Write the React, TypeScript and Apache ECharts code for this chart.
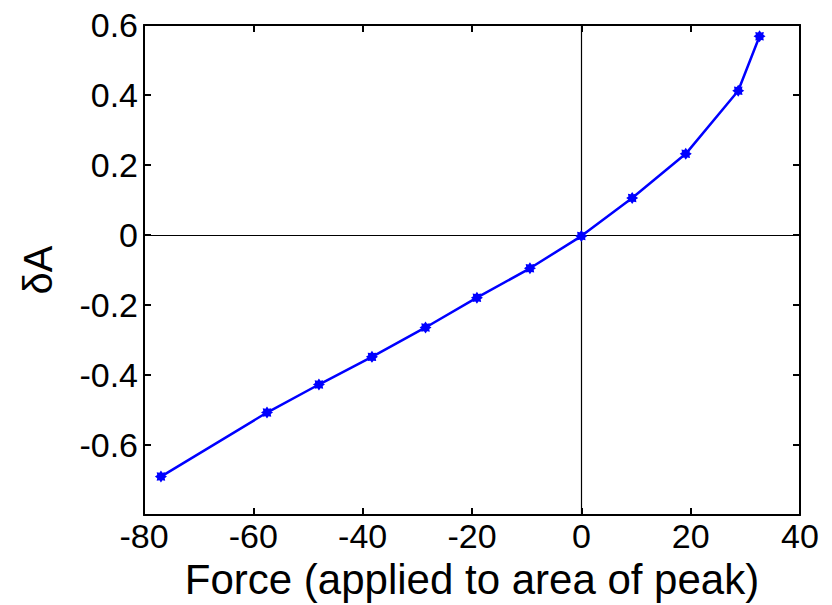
import React, { useEffect, useRef } from "react";
import * as echarts from "echarts";

const forceValues = [-76.9, -57.5, -48.0, -38.3, -28.5, -19.1, -9.4, 0, 9.3, 19.1, 28.7, 32.6];
const deltaA = [-0.69, -0.507, -0.427, -0.348, -0.264, -0.179, -0.095, -0.003, 0.106, 0.232, 0.412, 0.568];
const xTicks = { min: -80, max: 40, interval: 20 };
const yTicks = { min: -0.8, max: 0.6, interval: 0.2 };

function starPath(): string {
  const pts: string[] = [];
  for (let k = 0; k < 16; k++) {
    const a = (k * Math.PI) / 8;
    const r = k % 2 === 0 ? 1 : 0.68;
    pts.push(`${(r * Math.cos(a)).toFixed(3)} ${(r * Math.sin(a)).toFixed(3)}`);
  }
  return "path://M" + pts.join(" L") + " Z";
}

export default function App() {
  const ref = useRef<HTMLDivElement>(null);
  useEffect(() => {
    if (!ref.current) return;
    const chart = echarts.init(ref.current, null, { renderer: "svg" });
    const font = "'Liberation Sans', Arial, Helvetica, sans-serif";
    const axisCommon = {
      axisLine: { show: true, onZero: false, lineStyle: { color: "#000", width: 2 } },
      axisTick: { show: true, inside: true, length: 7, lineStyle: { color: "#000", width: 2 } },
      splitLine: { show: false },
    };
    const data = forceValues.map((x, i) => [x, deltaA[i]]);
    chart.setOption({
      animation: false,
      backgroundColor: "#fff",
      grid: { left: 144, right: 32, top: 25, bottom: 89, containLabel: false },
      xAxis: [
        {
          type: "value",
          ...xTicks,
          position: "bottom",
          ...axisCommon,
          axisLabel: { color: "#000", fontSize: 34, fontFamily: font, margin: 4 },
          name: "Force (applied to area of peak)",
          nameLocation: "middle",
          nameGap: 30,
          nameTextStyle: { color: "#000", fontSize: 42, fontFamily: font },
        },
        {
          type: "value",
          ...xTicks,
          position: "top",
          ...axisCommon,
          axisLabel: { show: false },
        },
      ],
      yAxis: [
        {
          type: "value",
          ...yTicks,
          position: "left",
          ...axisCommon,
          axisLabel: {
            color: "#000",
            fontSize: 34,
            fontFamily: font,
            margin: 6,
            formatter: (v: number) => (v < -0.79 ? "" : String(Math.round(v * 10) / 10)),
          },
          name: "δA",
          nameLocation: "middle",
          nameGap: 86,
          nameRotate: 90,
          nameTextStyle: { color: "#000", fontSize: 40, fontFamily: font },
        },
        {
          type: "value",
          ...yTicks,
          position: "right",
          ...axisCommon,
          axisLabel: { show: false },
        },
      ],
      series: [
        {
          type: "line",
          data,
          xAxisIndex: 0,
          yAxisIndex: 0,
          lineStyle: { color: "#0000ff", width: 2.5 },
          itemStyle: { color: "#0000ff" },
          symbol: starPath(),
          symbolSize: 12,
          markLine: {
            silent: true,
            symbol: "none",
            label: { show: false },
            lineStyle: { color: "#000", width: 1.2, type: "solid" },
            data: [{ xAxis: 0 }, { yAxis: 0 }],
            z: 1,
          },
        },
      ],
    });
    return () => chart.dispose();
  }, []);
  return (
    <div
      ref={ref}
      style={{ position: "fixed", left: 0, top: 0, width: 832, height: 605, background: "#fff" }}
    />
  );
}
